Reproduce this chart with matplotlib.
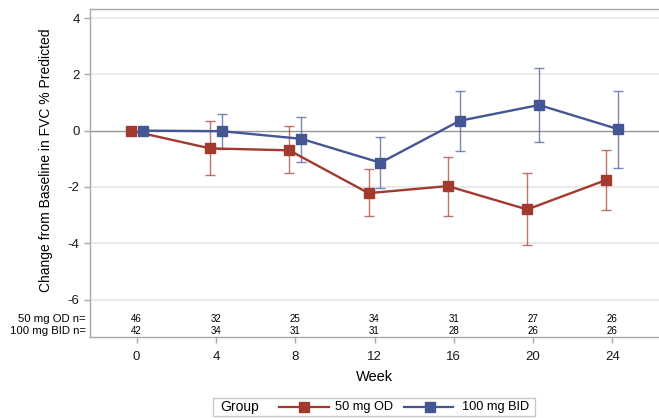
import numpy as np
import matplotlib.pyplot as plt
from matplotlib.lines import Line2D
from matplotlib.patches import Rectangle
from matplotlib import transforms

plt.rcParams['font.family'] = ['Liberation Sans', 'DejaVu Sans']
plt.rcParams['axes.unicode_minus'] = False

weeks = [0, 4, 8, 12, 16, 20, 24]

# 50 mg OD: mean change and CI limits
od_mean = [0.0, -0.63, -0.70, -2.22, -1.97, -2.80, -1.75]
od_low = [0.0, -1.56, -1.52, -3.03, -3.02, -4.05, -2.81]
od_high = [0.0, 0.35, 0.15, -1.37, -0.94, -1.51, -0.70]

# 100 mg BID
bid_mean = [0.0, -0.02, -0.29, -1.14, 0.35, 0.91, 0.05]
bid_low = [0.0, -0.67, -1.10, -2.05, -0.72, -0.42, -1.33]
bid_high = [0.0, 0.58, 0.48, -0.22, 1.42, 2.24, 1.39]

od_n = [46, 32, 25, 34, 31, 27, 26]
bid_n = [42, 34, 31, 31, 28, 26, 26]

red = '#A23A2E'
blue = '#445694'
W, H = 659, 418


def px(x, y):
    return x / W, 1 - y / H


fig = plt.figure(figsize=(W / 100, H / 100), dpi=100)
ax = fig.add_axes([90 / W, (H - 337) / H, (659 - 90) / W, (337 - 9) / H])

ax.set_xlim(-2.35, 26.35)
ax.set_ylim(-7.33, 4.32)
ax.set_yticks([-6, -4, -2, 0, 2, 4])
ax.set_xticks(weeks)

for g in [-6, -4, -2, 2, 4]:
    ax.axhline(g, color='#e6e6e6', lw=1.2, zorder=0)
ax.axhline(0, color='#969696', lw=1.0, zorder=1)

shift = 0.3
for mean, lo, hi, col, dx in [(od_mean, od_low, od_high, red, -shift),
                              (bid_mean, bid_low, bid_high, blue, shift)]:
    x = np.array(weeks) + dx
    m = np.array(mean)
    err = [m - np.array(lo), np.array(hi) - m]
    ax.errorbar(x, m, yerr=err, fmt='none', ecolor=col, alpha=0.7,
                elinewidth=1.0, capsize=3.6, capthick=1.0, zorder=2)
    ax.plot(x, m, color=col, lw=1.7, marker='s', markersize=7.3,
            markeredgecolor=col, zorder=3)

for s in ['left', 'top', 'bottom']:
    ax.spines[s].set_color('#a8a8a8')
    ax.spines[s].set_linewidth(1.0)
ax.spines['right'].set_visible(False)
ax.tick_params(axis='both', colors='#a8a8a8', labelcolor='#1a1a1a',
               labelsize=9.5, length=4, width=1.0)
ax.tick_params(axis='x', pad=6)

# subject counts along the bottom of the plot area
trans = transforms.blended_transform_factory(ax.transData, ax.transAxes)
for wk, a, b in zip(weeks, od_n, bid_n):
    ax.text(wk, 0.055, str(a), transform=trans, ha='center', va='center', fontsize=7)
    ax.text(wk, 0.017, str(b), transform=trans, ha='center', va='center', fontsize=7)
ax.text(-0.007, 0.055, '50 mg OD n=', transform=ax.transAxes, ha='right', va='center', fontsize=8.2)
ax.text(-0.007, 0.017, '100 mg BID n=', transform=ax.transAxes, ha='right', va='center', fontsize=8.2)

fig.text(*px(375, 377), 'Week', ha='center', va='center', fontsize=10.5)
fig.text(*px(46, 160), 'Change from Baseline in FVC % Predicted',
         rotation=90, ha='center', va='center', fontsize=10)

# legend strip
x0, y0 = px(213, 416)
x1, y1 = px(535, 398)
fig.patches.append(Rectangle((x0, y0), x1 - x0, y1 - y0, transform=fig.transFigure,
                             facecolor='white', edgecolor='#c8c8c8', lw=1.0))
ly = px(0, 407)[1]
fig.text(px(220, 0)[0], ly, 'Group', ha='left', va='center', fontsize=10)
for xa, xb, xm, col, lab, xt in [(279, 329, 304, red, '50 mg OD', 335),
                                 (404, 453, 430, blue, '100 mg BID', 462)]:
    fig.add_artist(Line2D([xa / W, xb / W], [ly, ly], color=col, lw=1.6,
                          transform=fig.transFigure))
    fig.add_artist(Line2D([xm / W], [ly], color=col, marker='s', markersize=7,
                          transform=fig.transFigure))
    fig.text(xt / W, ly, lab, ha='left', va='center', fontsize=9.2)

fig.savefig('out.png', dpi=100)
